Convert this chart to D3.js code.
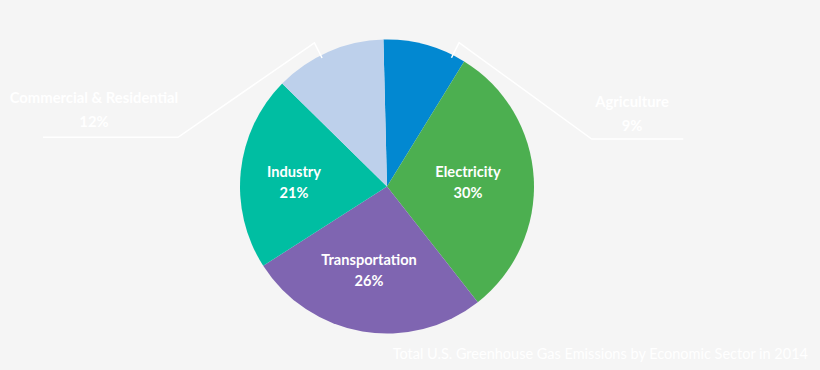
<!DOCTYPE html>
<html><head><meta charset="utf-8">
<script src="https://cdn.jsdelivr.net/npm/d3@7"></script>
<style>
html,body{margin:0;padding:0;background:#f5f5f5;}
svg{display:block;}
text{font-family:Lato,"Open Sans",sans-serif;}
</style></head>
<body><svg id="chart" width="820" height="370"></svg>
<script>
const sectors = ["Agriculture","Electricity","Transportation","Industry","Commercial & Residential"];
const shares = [9,30,26,21,12];
const colors = ["#0288d1","#4caf50","#7f65b1","#00bea2","#bdd0eb"];
const title = "Total U.S. Greenhouse Gas Emissions by Economic Sector in 2014";

const svg = d3.select("#chart");
svg.append("rect").attr("width",820).attr("height",370).attr("fill","#f5f5f5");
const cx = 387, cy = 186.5, R = 147;
const data = sectors.map((s,i)=>({name:s,value:shares[i],color:colors[i]}));
const start = -1.4*Math.PI/180;
const pie = d3.pie().value(d=>d.value).sort(null).startAngle(start).endAngle(start+2*Math.PI);
const arcs = pie(data);
const arc = d3.arc().innerRadius(0).outerRadius(R);
const g = svg.append("g").attr("transform",`translate(${cx},${cy})`);
g.selectAll("path").data(arcs).join("path").attr("d",arc).attr("fill",d=>d.data.color);

// inside labels
const inside = {"Electricity":[81,-10],"Transportation":[-18,78],"Industry":[-93,-10]};
arcs.forEach(a=>{
  const p = inside[a.data.name];
  if(!p) return;
  const t = g.append("text").attr("text-anchor","middle").attr("fill","#fff")
    .attr("font-weight","bold").attr("font-size",14.6);
  t.append("tspan").attr("x",p[0]).attr("y",p[1]).text(a.data.name);
  t.append("tspan").attr("x",p[0]).attr("y",p[1]+21).text(a.data.value+"%");
});

// outside labels with leader lines
const outside = {
  "Agriculture":{ang:26.6, tx:632, ty:107, hx:[591.7,683.3], hy:139},
  "Commercial & Residential":{ang:-26.8, tx:94, ty:103, hx:[178,43], hy:137.3}
};
arcs.forEach(a=>{
  const o = outside[a.data.name];
  if(!o) return;
  const th = o.ang*Math.PI/180;
  const p1 = [cx+144*Math.sin(th), cy-144*Math.cos(th)];
  const p2 = [cx+161*Math.sin(th), cy-161*Math.cos(th)];
  const line = d3.line();
  svg.append("path").attr("d",line([p1,p2,[o.hx[0],o.hy],[o.hx[1],o.hy]]))
    .attr("fill","none").attr("stroke","#fff").attr("stroke-width",1.5);
  const t = svg.append("text").attr("text-anchor","middle").attr("fill","#fff")
    .attr("font-weight","bold").attr("font-size",14.8);
  t.append("tspan").attr("x",o.tx).attr("y",o.ty).text(a.data.name);
  t.append("tspan").attr("x",o.tx).attr("y",o.ty+24).text(a.data.value+"%");
});

svg.append("text").attr("x",808).attr("y",359).attr("text-anchor","end")
  .attr("fill","#fff").attr("font-size",14.5).text(title);
</script></body></html>
